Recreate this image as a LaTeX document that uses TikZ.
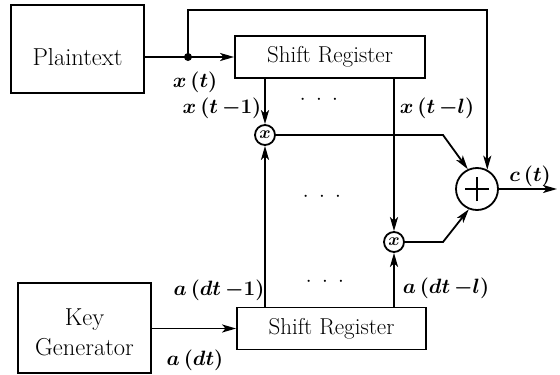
\documentclass[tikz,border=0pt]{standalone}
\usetikzlibrary{arrows.meta,calc}
\begin{document}
\begin{tikzpicture}[x=1pt,y=-1pt,
  box/.style={draw, line width=1.8pt, inner sep=0pt, font=\fontsize{23}{27}\selectfont},
  lbl/.style={font=\fontsize{22.5}{27}\selectfont\boldmath, inner sep=0pt},
  wire/.style={line width=1.8pt},
  arr/.style={line width=1.8pt, -{Stealth[length=14pt,width=8pt,inset=3.5pt]}},
  mult/.style={draw, circle, line width=1.8pt, minimum size=20pt, inner sep=0pt},
  dots/.style={font=\fontsize{22}{25}\selectfont, inner sep=0pt}]
\useasboundingbox (0,0) rectangle (560,375);
% boxes
\node[box, minimum width=133pt, minimum height=88pt,
      label={[lbl, font=\fontsize{24.5}{27}\selectfont, yshift=-8pt]center:Plaintext}] (plain) at (77.5,49) {};
\node[box, minimum width=133pt, minimum height=90pt,
      label={[lbl, align=center, font=\fontsize{24.5}{30}\selectfont, yshift=-4pt]center:Key\\Generator}] (kg) at (84.5,328) {};
\node[box, minimum width=190pt, minimum height=42pt] (sr1) at (330,57) {Shift Register};
\node[box, minimum width=189pt, minimum height=42pt] (sr2) at (331.5,328.5) {Shift Register};
% operators
\node[mult, font=\fontsize{16}{16}\selectfont\boldmath] (m1) at (265,135) {$x$};
\node[mult, font=\fontsize{16}{16}\selectfont\boldmath] (m2) at (394,242) {$x$};
\node[mult, minimum size=42pt,
      path picture={\draw[line width=2pt] ($(path picture bounding box.center)+(-12pt,0pt)$) -- ++(24pt,0pt);
                    \draw[line width=2pt] ($(path picture bounding box.center)+(0pt,-12pt)$) -- ++(0pt,24pt);}] (add) at (477,189) {};
\node[circle, fill, inner sep=0pt, minimum size=8pt] (dot) at (188,57) {};
\coordinate (top) at (0,10);
\coordinate (b1) at (443,135);
\coordinate (b2) at (443,242);
\coordinate (out) at (557,189);
% connectors
\draw[wire] (plain.east |- dot) -- (dot.center);
\draw[arr] (dot.center) -- (sr1.west);
\draw[arr] (dot.center) |- (add.62 |- top) -- (add.62);
\draw[arr] (sr1.south -| m1) -- (m1.north);
\draw[arr] (sr1.south -| m2) -- (m2.north);
\draw[arr] (sr2.north -| m1) -- (m1.south);
\draw[arr] (sr2.north -| m2) -- (m2.south);
\draw[arr] (m1.east) -- (b1) -- (add.115);
\draw[arr] (m2.east) -- (b2) -- (add.-112);
\draw[arr] (add.east) -- (out);
\draw[arr] (kg.east |- sr2.west) -- (sr2.west);
% labels
\node[lbl] (lxt) at (195,82) {$x\,(t)$};
\node[lbl] (lxt1) at (222,108) {$x\,(t\,{-}1)$};
\node[lbl] (lxtl) at (437,108) {$x\,(t\,{-}l)$};
\node[lbl] (lad1) at (219,290) {$a\,(dt\,{-}1)$};
\node[lbl] (ladl) at (446,288) {$a\,(dt\,{-}l)$};
\node[lbl] (lad) at (195,360) {$a\,(dt)$};
\node[lbl] (lct) at (530,176) {$c\,(t)$};
\node[dots] (d1) at (319,100) {$\cdot\;\cdot\;\cdot$};
\node[dots] (d2) at (322,197) {$\cdot\;\cdot\;\cdot$};
\node[dots] (d3) at (325,282) {$\cdot\;\cdot\;\cdot$};
\end{tikzpicture}
\end{document}
